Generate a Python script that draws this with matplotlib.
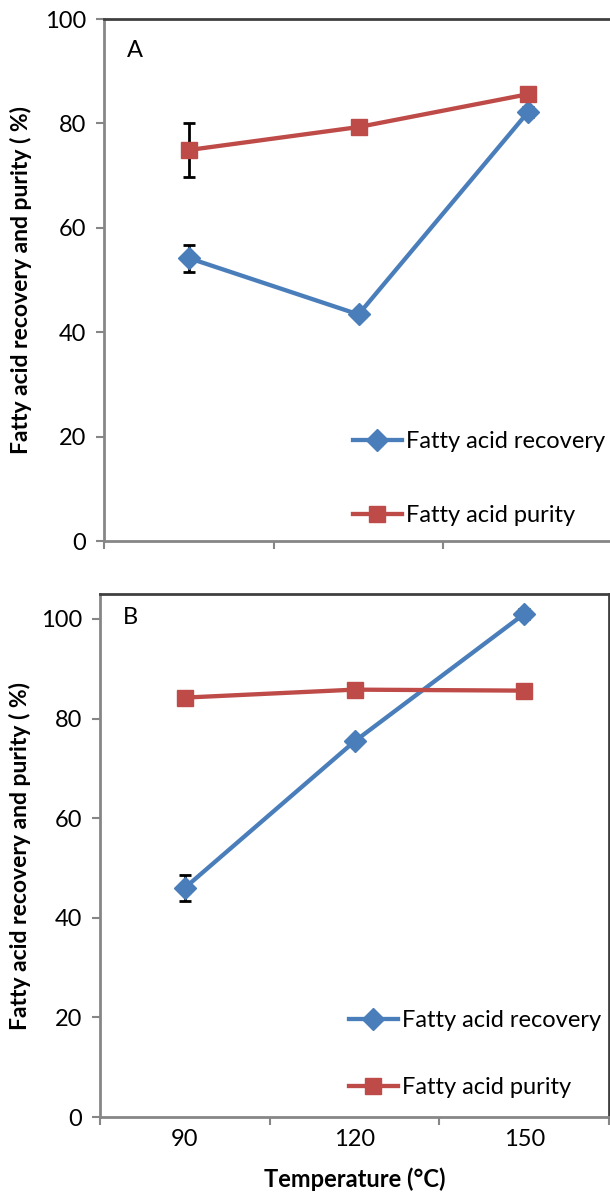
import matplotlib
matplotlib.use("Agg")
import matplotlib.pyplot as plt
from matplotlib.lines import Line2D
from matplotlib.ticker import FixedLocator, NullFormatter, FixedFormatter

plt.rcParams['font.family'] = ['Lato', 'DejaVu Sans']

temps = ["90", "120", "150"]

# Panel A
rec_A = [54.2, 43.4, 82.2]
rec_A_err = [2.6, 0.0, 1.0]
pur_A = [74.9, 79.3, 85.6]
pur_A_err = [5.2, 0.0, 0.0]

# Panel B
rec_B = [46.0, 75.4, 101.0]
rec_B_err = [2.6, 0.0, 1.0]
pur_B = [84.2, 85.8, 85.6]
pur_B_err = [0.0, 0.0, 0.0]

BLUE = "#4A7EBB"
RED = "#BE4B48"
W, H = 610, 1193
fig = plt.figure(figsize=(W / 100, H / 100), dpi=100)


def px_axes(l, t, r, b):
    return fig.add_axes([l / W, 1 - b / H, (r - l) / W, (b - t) / H])


def draw(ax, rec, rec_err, pur, pur_err, ymax, letter, show_xlabels, leg_y, leg_sp):
    x = list(range(1, len(temps) + 1))
    ax.errorbar(x, rec, yerr=rec_err, fmt='none', ecolor='black', elinewidth=2,
                capsize=4.5, capthick=2, zorder=2)
    ax.errorbar(x, pur, yerr=pur_err, fmt='none', ecolor='black', elinewidth=2,
                capsize=4.5, capthick=2, zorder=2)
    ax.plot(x, rec, color=BLUE, lw=3.1, marker='D', ms=11.5, zorder=3)
    ax.plot(x, pur, color=RED, lw=3.1, marker='s', ms=12, zorder=3)
    ax.set_xlim(0.5, len(temps) + 0.5)
    ax.set_ylim(0, ymax)
    ax.set_yticks([0, 20, 40, 60, 80, 100])
    ax.xaxis.set_major_locator(FixedLocator([0.5 + i for i in range(len(temps) + 1)]))
    ax.xaxis.set_major_formatter(NullFormatter())
    ax.xaxis.set_minor_locator(FixedLocator(x))
    if show_xlabels:
        ax.xaxis.set_minor_formatter(FixedFormatter(temps))
    else:
        ax.xaxis.set_minor_formatter(NullFormatter())
    ax.tick_params(axis='x', which='minor', length=0, pad=9, labelsize=17)
    ax.tick_params(axis='x', which='major', length=6, width=1.5, color='#868686')
    ax.tick_params(axis='y', length=6, width=1.5, color='#868686', pad=7, labelsize=17)
    for s in ['left', 'bottom']:
        ax.spines[s].set_color('#868686')
        ax.spines[s].set_linewidth(2)
    for s in ['top', 'right']:
        ax.spines[s].set_color('#404040')
        ax.spines[s].set_linewidth(2)
    ax.set_ylabel("Fatty acid recovery and purity ( %)", fontsize=16.5,
                  fontweight='bold', labelpad=6)
    ax.text(0.06, 0.94 if ymax == 100 else 0.955, letter, transform=ax.transAxes,
            fontsize=17, ha='center', va='center')
    handles = [Line2D([], [], color=BLUE, lw=3.1, marker='D', ms=11.5),
               Line2D([], [], color=RED, lw=3.1, marker='s', ms=12)]
    ax.legend(handles, ["Fatty acid recovery", "Fatty acid purity"],
              loc='center left', bbox_to_anchor=(0.47, leg_y), frameon=False,
              fontsize=17, handlelength=2.1, handletextpad=0.15,
              labelspacing=leg_sp, borderaxespad=0)


axA = px_axes(104, 19, 613, 541)
draw(axA, rec_A, rec_A_err, pur_A, pur_A_err, 100, "A", False, 0.12, 2.25)

axB = px_axes(100, 594, 609, 1117)
draw(axB, rec_B, rec_B_err, pur_B, pur_B_err, 105, "B", True, 0.12, 1.95)
axB.set_xlabel("Temperature (°C)", fontsize=17, fontweight='bold', labelpad=12)

axA.yaxis.set_label_coords(-0.142, 0.5)
axB.yaxis.set_label_coords(-0.135, 0.5)

fig.savefig("out.png", dpi=100)
